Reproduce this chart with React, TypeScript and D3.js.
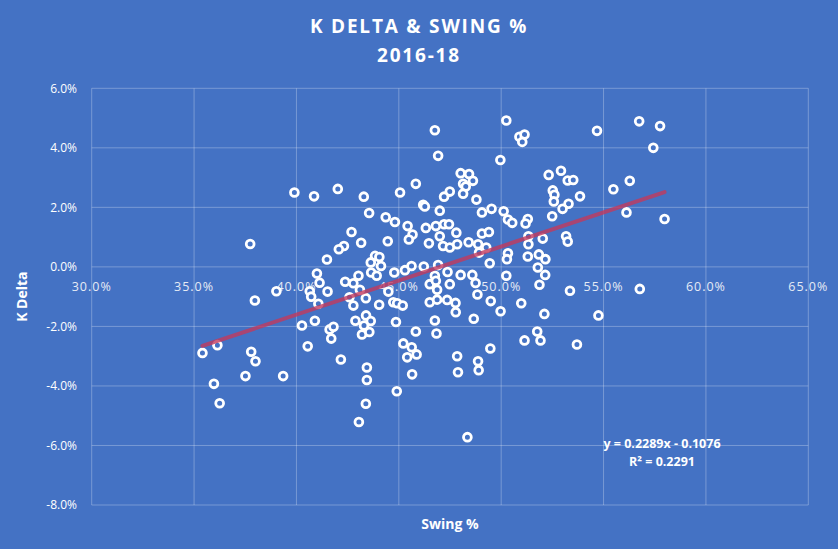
import * as d3 from "d3";
import React from "react";

// Swing % (x) and K Delta (y), both in percent
const swingPct = [
  39.9, 40.86, 42.02, 37.74, 42.69, 42.32, 42.07, 41.49, 41.0, 41.13, 41.52, 40.65, 40.72, 42.38, 42.78, 43.03,
  39.02, 37.97, 41.07, 42.59, 42.78, 42.88, 43.2, 40.27, 40.9, 41.62, 41.81, 41.7, 40.55, 42.17, 35.41, 36.14,
  37.79, 38.0, 37.51, 39.35, 35.97, 36.25, 43.05, 46.76, 50.25, 46.92, 49.96, 48.02, 48.43, 48.62, 48.14, 48.27,
  48.14, 45.83, 45.06, 43.29, 47.49, 47.21, 48.79, 46.19, 46.27, 47.0, 49.53, 49.06, 50.12, 50.33, 50.54, 43.55,
  44.36, 44.81, 43.16, 44.46, 45.43, 45.67, 45.49, 46.32, 46.81, 47.21, 47.45, 47.0, 47.16, 47.49, 47.81, 47.85,
  46.47, 48.41, 49.06, 49.4, 48.87, 48.92, 49.27, 49.44, 50.33, 50.28, 50.25, 43.84, 44.05, 43.63, 44.13, 43.65,
  43.92, 44.78, 45.3, 45.62, 46.22, 46.92, 46.76, 47.38, 48.02, 48.59, 43.1, 43.39, 44.04, 44.49, 44.73, 44.92,
  45.19, 43.4, 43.63, 43.3, 43.56, 44.86, 45.83, 45.22, 45.63, 45.41, 45.87, 45.65, 44.9, 43.44, 43.44, 43.39,
  48.35, 46.51, 46.81, 46.87, 46.51, 46.87, 47.49, 47.36, 47.77, 47.78, 46.76, 46.84, 48.75, 48.84, 49.49, 49.97,
  48.66, 49.47, 47.85, 48.87, 47.89, 48.9, 50.89, 51.14, 51.03, 54.68, 56.74, 57.76, 57.43, 52.32, 52.92, 53.25,
  53.52, 52.52, 52.6, 52.57, 53.85, 53.29, 53.0, 52.49, 55.48, 56.28, 56.12, 57.98, 51.3, 51.19, 51.33, 51.33,
  52.03, 53.17, 53.25, 51.3, 51.84, 52.16, 51.79, 52.15, 51.87, 53.36, 56.77, 50.98, 52.11, 54.75, 51.76, 51.92,
  51.14, 53.7,
];

const kDelta = [
  2.5, 2.37, 2.62, 0.77, 1.17, 0.7, 0.59, 0.25, -0.22, -0.53, -0.83, -0.82, -1.0, -0.5, -0.55, -0.3,
  -0.82, -1.13, -1.24, -1.02, -1.3, -1.81, -2.27, -1.97, -1.81, -2.1, -2.01, -2.41, -2.67, -3.11, -2.89, -2.63,
  -2.85, -3.17, -3.67, -3.67, -3.93, -4.58, -5.21, 4.59, 4.92, 3.73, 3.59, 3.15, 3.12, 2.89, 2.79, 2.7,
  2.46, 2.79, 2.5, 2.36, 2.53, 2.36, 2.26, 2.09, 2.03, 1.89, 1.95, 1.83, 1.87, 1.59, 1.48, 1.81,
  1.67, 1.51, 0.81, 0.86, 1.37, 1.09, 0.92, 1.31, 1.37, 1.43, 1.43, 1.03, 0.7, 0.65, 1.15, 0.76,
  0.79, 0.83, 1.12, 1.17, 0.76, 0.48, 0.65, 0.12, 0.46, 0.26, -0.3, 0.37, 0.33, 0.15, 0.03, -0.19,
  -0.3, -0.19, -0.11, 0.03, 0.01, 0.06, -0.3, -0.17, -0.27, -0.27, -0.77, -1.05, -1.27, -0.83, -1.19, -1.22,
  -1.3, -1.63, -1.82, -1.97, -2.19, -1.85, -2.17, -2.57, -2.7, -3.04, -2.94, -3.61, -4.18, -3.38, -3.8, -4.6,
  -5.72, -0.58, -0.47, -0.77, -1.19, -1.1, -0.58, -1.11, -1.21, -1.52, -1.8, -2.24, -0.54, -0.93, -1.15, -1.49,
  -1.74, -2.74, -3.0, -3.17, -3.54, -3.47, 4.37, 4.45, 4.2, 4.57, 4.89, 4.73, 4.0, 3.09, 3.23, 2.9,
  2.92, 2.57, 2.42, 2.2, 2.37, 2.12, 1.95, 1.7, 2.61, 2.89, 1.83, 1.61, 1.61, 1.46, 1.03, 0.76,
  0.95, 1.03, 0.85, 0.35, 0.42, 0.26, -0.02, -0.27, -0.6, -0.8, -0.74, -1.22, -1.58, -1.63, -2.17, -2.47,
  -2.47, -2.61,
];

const xTicks = [30, 35, 40, 45, 50, 55, 60, 65];
const yTicks = [6, 4, 2, 0, -2, -4, -6, -8];

// linear trendline as reported in the chart (fractions, not percent)
const trendSlope = 0.2289;
const trendIntercept = -0.1076;
const trendLabel = "y = 0.2289x - 0.1076";
const r2Label = "R² = 0.2291";

const W = 838;
const H = 549;
const BG = "#4472C4";
const FONT = "'Open Sans', 'Liberation Sans', sans-serif";

export default function App() {
  const x = d3.scaleLinear().domain([30, 65]).range([91.7, 808.3]);
  const y = d3.scaleLinear().domain([-8, 6]).range([505, 88.3]);

  const points = swingPct.map((s, i) => ({ s, k: kDelta[i] }));
  const [xMin, xMax] = d3.extent(swingPct) as [number, number];
  const trend = (s: number) => (trendSlope * (s / 100) + trendIntercept) * 100;
  const line = d3
    .line<number>()
    .x((s) => x(s))
    .y((s) => y(trend(s)));

  const grid = "rgba(255,255,255,0.28)";

  return (
    <div style={{ position: "fixed", left: 0, top: 0 }}>
      <svg width={W} height={H} style={{ display: "block" }}>
        <rect width={W} height={H} fill={BG} />

        {/* title */}
        <text x={W / 2} y={33} textAnchor="middle" fill="#fff" fontFamily={FONT}
          fontWeight="bold" fontSize={19} letterSpacing={1.8}>K DELTA &amp; SWING %</text>
        <text x={W / 2} y={62} textAnchor="middle" fill="#fff" fontFamily={FONT}
          fontWeight="bold" fontSize={19} letterSpacing={1.8}>2016-18</text>

        {/* gridlines */}
        {xTicks.map((t) => (
          <line key={"gx" + t} x1={x(t)} x2={x(t)} y1={y(6)} y2={y(-8)} stroke={grid} strokeWidth={1} />
        ))}
        {yTicks.map((t) => (
          <line key={"gy" + t} x1={x(30)} x2={x(65)} y1={y(t)} y2={y(t)} stroke={grid} strokeWidth={1} />
        ))}

        {/* y tick labels */}
        {yTicks.map((t) => (
          <text key={"ly" + t} x={77} y={y(t)} dy="0.35em" textAnchor="end" fill="#fff"
            fontFamily={FONT} fontSize={12}>{t.toFixed(1)}%</text>
        ))}

        {/* x tick labels sit under the zero line */}
        {xTicks.map((t) => (
          <text key={"lx" + t} x={x(t)} y={y(0) + 20} dy="0.35em" textAnchor="middle" fill="#E6EBF5"
            fontFamily={FONT} fontSize={12.5} letterSpacing={1}>{t.toFixed(1)}%</text>
        ))}

        {/* points */}
        {points.map((p, i) => (
          <circle key={i} cx={x(p.s)} cy={y(p.k)} r={3.9} fill={BG} stroke="#fff" strokeWidth={2.8} />
        ))}

        {/* trendline */}
        <path d={line([xMin, xMax]) ?? ""} fill="none" stroke="#C23A5E" strokeOpacity={0.8}
          strokeWidth={4} strokeLinecap="round" />

        <text x={662} y={448} textAnchor="middle" fill="#fff" fontFamily={FONT}
          fontWeight="bold" fontSize={12.5}>{trendLabel}</text>
        <text x={662} y={466} textAnchor="middle" fill="#fff" fontFamily={FONT}
          fontWeight="bold" fontSize={12.5}>{r2Label}</text>

        {/* axis titles */}
        <text x={450} y={529} textAnchor="middle" fill="#fff" fontFamily={FONT}
          fontWeight="bold" fontSize={14}>Swing %</text>
        <text transform={`translate(27,${(y(6) + y(-8)) / 2}) rotate(-90)`} textAnchor="middle"
          fill="#fff" fontFamily={FONT} fontWeight="bold" fontSize={14}>K Delta</text>
      </svg>
    </div>
  );
}
